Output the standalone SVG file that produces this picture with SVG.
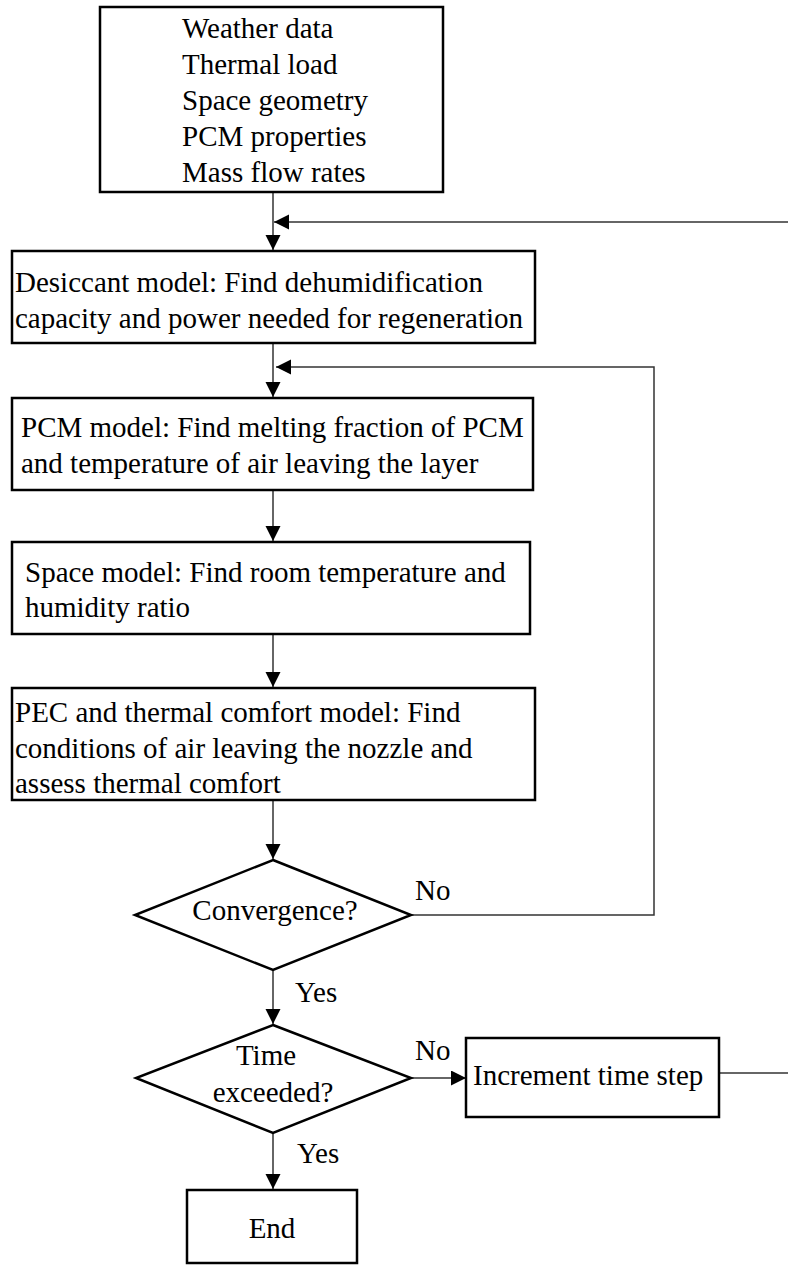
<svg xmlns="http://www.w3.org/2000/svg" width="788" height="1265" viewBox="0 0 788 1265">
<style>
  .box { fill: #fff; stroke: #000; stroke-width: 2.5; }
  .txt { font-family: "Liberation Serif", "Times New Roman", serif; font-size: 29px; fill: #000; }
  .mid { text-anchor: middle; }
  .conn { fill: none; stroke: #333; stroke-width: 1.5; }
</style>
<defs>
  <marker id="arr" markerUnits="userSpaceOnUse" markerWidth="16" markerHeight="16" refX="15" refY="7.5" orient="auto">
    <path d="M0,0 L15,7.5 L0,15 z" fill="#000"/>
  </marker>
</defs>
<rect width="788" height="1265" fill="#fff"/>

<g id="connectors">
  <path class="conn" d="M273,192 V250" marker-end="url(#arr)"/>
  <path class="conn" d="M788,222 H274" marker-end="url(#arr)"/>
  <path class="conn" d="M273,343 V397" marker-end="url(#arr)"/>
  <path class="conn" d="M411,915 H654 V367 H276" marker-end="url(#arr)"/>
  <path class="conn" d="M273,490 V541" marker-end="url(#arr)"/>
  <path class="conn" d="M273,634 V687" marker-end="url(#arr)"/>
  <path class="conn" d="M273,800 V859" marker-end="url(#arr)"/>
  <path class="conn" d="M273,970 V1024" marker-end="url(#arr)"/>
  <path class="conn" d="M411,1078 H466" marker-end="url(#arr)"/>
  <path class="conn" d="M719,1073 H788"/>
  <path class="conn" d="M273,1133 V1189" marker-end="url(#arr)"/>
</g>

<g id="inputs">
  <rect class="box" x="100" y="7" width="343" height="185"/>
  <text class="txt" x="182" y="38">Weather data</text>
  <text class="txt" x="182" y="74">Thermal load</text>
  <text class="txt" x="182" y="110">Space geometry</text>
  <text class="txt" x="182" y="146">PCM properties</text>
  <text class="txt" x="182" y="182">Mass flow rates</text>
</g>

<g id="desiccant">
  <rect class="box" x="12" y="251" width="523" height="92"/>
  <text class="txt" x="15" y="292">Desiccant model: Find dehumidification</text>
  <text class="txt" x="15" y="328">capacity and power needed for regeneration</text>
</g>

<g id="pcm">
  <rect class="box" x="12" y="398" width="521" height="92"/>
  <text class="txt" x="21" y="437">PCM model: Find melting fraction of PCM</text>
  <text class="txt" x="21" y="473">and temperature of air leaving the layer</text>
</g>

<g id="space">
  <rect class="box" x="12" y="542" width="518" height="92"/>
  <text class="txt" x="25" y="582">Space model: Find room temperature and</text>
  <text class="txt" x="25" y="617">humidity ratio</text>
</g>

<g id="pec">
  <rect class="box" x="12" y="688" width="523" height="112"/>
  <text class="txt" x="15" y="722">PEC and thermal comfort model: Find</text>
  <text class="txt" x="15" y="758">conditions of air leaving the nozzle and</text>
  <text class="txt" x="15" y="793">assess thermal comfort</text>
</g>

<g id="convergence">
  <polygon class="box" points="273,860 411,915 273,970 135,915"/>
  <text class="txt mid" x="275" y="920">Convergence?</text>
  <text class="txt" x="415" y="900">No</text>
  <text class="txt" x="295" y="1002">Yes</text>
</g>

<g id="time">
  <polygon class="box" points="273,1025 411,1078 273,1133 136,1078"/>
  <text class="txt mid" x="266" y="1065">Time</text>
  <text class="txt mid" x="273" y="1102">exceeded?</text>
  <text class="txt" x="415" y="1060">No</text>
  <text class="txt" x="297" y="1163">Yes</text>
</g>

<g id="increment">
  <rect class="box" x="466" y="1038" width="253" height="79"/>
  <text class="txt" x="473" y="1085">Increment time step</text>
</g>

<g id="end">
  <rect class="box" x="187" y="1190" width="170" height="73"/>
  <text class="txt mid" x="272" y="1238">End</text>
</g>
</svg>
